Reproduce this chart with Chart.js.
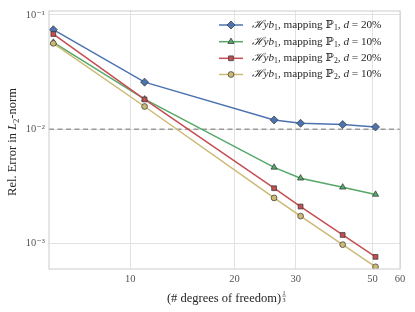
<!DOCTYPE html>
<html>
<head>
<meta charset="utf-8">
<script src="https://cdn.jsdelivr.net/npm/chart.js@4"></script>
<style>
  html, body { margin: 0; padding: 0; background: #fff; }
  #wrap { width: 415px; height: 312px; }
</style>
</head>
<body>
<div id="wrap"><canvas id="errChart" width="415" height="312"></canvas></div>
<script>
// (# dofs)^(1/3) and relative L2 errors
const xDof = [6, 11, 26, 31, 41, 51];
const errP1d20 = [0.0741, 0.0258, 0.01205, 0.01127, 0.01098, 0.01047];
const errP1d10 = [0.0574, 0.0183, 0.00464, 0.00373, 0.00311, 0.00269];
const errP2d20 = [0.0679, 0.0182, 0.00305, 0.00211, 0.00119, 0.000766];
const errP2d10 = [0.0563, 0.0158, 0.00251, 0.00174, 0.00098, 0.000627];
const xTicks = [10, 20, 30, 50, 60];
const yTicks = [1e-3, 1e-2, 1e-1];
const yTickLabels = ["10\u207B\u00B3", "10\u207B\u00B2", "10\u207B\u00B9"];
const refLevel = 0.01;
const xRange = [5.83, 60];
const yRange = [6.15e-4, 0.108];

const SERIF = '"Liberation Serif", "DejaVu Serif", serif';

function pts(ys) {
    return xDof.map((x, i) => ({ x: x, y: ys[i] }));
}

const series = [
    { mapping: "1", d: "20", data: errP1d20, color: "#4C72B0", style: "rectRot", r: 4.0, order: 4 },
    { mapping: "1", d: "10", data: errP1d10, color: "#55A868", style: "triangle", r: 3.6, order: 3 },
    { mapping: "2", d: "20", data: errP2d20, color: "#C44E52", style: "rect", r: 3.4, order: 2 },
    { mapping: "2", d: "10", data: errP2d10, color: "#CCB974", style: "circle", r: 2.9, order: 1 }
];

const datasets = series.map(s => ({
    label: "Hyb1, mapping P" + s.mapping + ", d = " + s.d + "%",
    data: pts(s.data),
    borderColor: s.color,
    backgroundColor: s.color,
    borderWidth: 1.5,
    pointStyle: s.style,
    pointRadius: s.r,
    pointBorderColor: "#333",
    pointBorderWidth: 0.7,
    pointBackgroundColor: s.color,
    order: s.order,
    tension: 0
}));

datasets.push({
    label: "ref",
    data: [{ x: xRange[0], y: refLevel }, { x: xRange[1], y: refLevel }],
    borderColor: "#999999",
    borderWidth: 1.5,
    borderDash: [5, 3.5],
    pointRadius: 0,
    order: 10
});

// draw mixed roman / italic / sub / sup text in one run
function richText(ctx, parts, x, y, size) {
    let cx = x;
    parts.forEach(p => {
        const fs = p.sub || p.sup ? size * 0.7 : size;
        ctx.font = (p.it ? "italic " : "") + fs + "px " + SERIF;
        const dy = p.sub ? size * 0.25 : (p.sup ? -size * 0.4 : 0);
        ctx.fillText(p.t, cx, y + dy);
        cx += ctx.measureText(p.t).width;
    });
    return cx;
}

function richWidth(ctx, parts, size) {
    let w = 0;
    parts.forEach(p => {
        ctx.font = (p.it ? "italic " : "") + (p.sub || p.sup ? size * 0.7 : size) + "px " + SERIF;
        w += ctx.measureText(p.t).width;
    });
    return w;
}

const decorPlugin = {
    id: "decor",
    afterDraw(chart) {
        const ctx = chart.ctx;
        const a = chart.chartArea;
        ctx.save();
        // frame
        ctx.strokeStyle = "#cccccc";
        ctx.lineWidth = 1;
        ctx.strokeRect(a.left, a.top, a.right - a.left, a.bottom - a.top);

        // legend
        ctx.textBaseline = "middle";
        const rowY = [25, 41.7, 58.3, 74.5];
        series.forEach((s, i) => {
            const y = rowY[i];
            ctx.strokeStyle = s.color;
            ctx.lineWidth = 1.5;
            ctx.setLineDash([]);
            ctx.beginPath();
            ctx.moveTo(219, y);
            ctx.lineTo(243, y);
            ctx.stroke();
            ctx.fillStyle = s.color;
            ctx.strokeStyle = "#333";
            ctx.lineWidth = 0.7;
            Chart.helpers.drawPoint(ctx, { pointStyle: s.style, radius: s.r, rotation: 0, borderWidth: 0.7 }, 231, y);
            ctx.fillStyle = "#262626";
            richText(ctx, [
                { t: "\u210B", it: true },
                { t: "yb", it: true },
                { t: "1", sub: true },
                { t: ", mapping " },
                { t: "\u2119" },
                { t: s.mapping, sub: true },
                { t: ", " },
                { t: "d", it: true },
                { t: " = " + s.d + "%" }
            ], 251.5, y, 11.2);
        });

        // x axis title
        ctx.fillStyle = "#262626";
        ctx.textBaseline = "alphabetic";
        ctx.font = "12.5px " + SERIF;
        const xt = "(# degrees of freedom)";
        const w = ctx.measureText(xt).width;
        const x0 = 224 - w / 2;
        ctx.fillText(xt, x0, 302);
        const fx = x0 + w + 1;
        ctx.font = "6px " + SERIF;
        ctx.fillText("1", fx + 0.5, 295);
        ctx.fillText("3", fx + 0.5, 301.5);
        ctx.fillRect(fx, 295.8, 4, 0.5);

        // y axis title
        ctx.translate(16, 142);
        ctx.rotate(-Math.PI / 2);
        const parts = [
            { t: "Rel. Error in " },
            { t: "L", it: true },
            { t: "2", sub: true },
            { t: "-norm" }
        ];
        const tw = richWidth(ctx, parts, 12.5);
        richText(ctx, parts, -tw / 2, 0, 12.5);
        ctx.restore();
    }
};

new Chart(document.getElementById("errChart"), {
    type: "line",
    data: { datasets: datasets },
    plugins: [decorPlugin],
    options: {
        responsive: false,
        animation: false,
        layout: { padding: { top: 11, right: 15, left: 0, bottom: 0 } },
        plugins: {
            legend: { display: false },
            tooltip: { enabled: false }
        },
        scales: {
            x: {
                type: "logarithmic",
                min: xRange[0],
                max: xRange[1],
                afterBuildTicks: scale => { scale.ticks = xTicks.map(v => ({ value: v })); },
                afterFit: scale => { scale.height = 43; },
                ticks: {
                    autoSkip: false,
                    maxRotation: 0,
                    padding: 4,
                    color: "#555",
                    font: { family: SERIF, size: 10.5 },
                    callback: v => String(v)
                },
                grid: { color: "#e2e2e2", lineWidth: 1, drawTicks: false },
                border: { display: false }
            },
            y: {
                type: "logarithmic",
                min: yRange[0],
                max: yRange[1],
                afterBuildTicks: scale => { scale.ticks = yTicks.map(v => ({ value: v })); },
                afterFit: scale => { scale.width = 49; },
                ticks: {
                    autoSkip: false,
                    padding: 4,
                    color: "#555",
                    font: { family: SERIF, size: 10.5 },
                    callback: v => yTickLabels[yTicks.findIndex(t => Math.abs(t - v) / t < 1e-6)]
                },
                grid: { color: "#e2e2e2", lineWidth: 1, drawTicks: false },
                border: { display: false }
            }
        }
    }
});
</script>
</body>
</html>
